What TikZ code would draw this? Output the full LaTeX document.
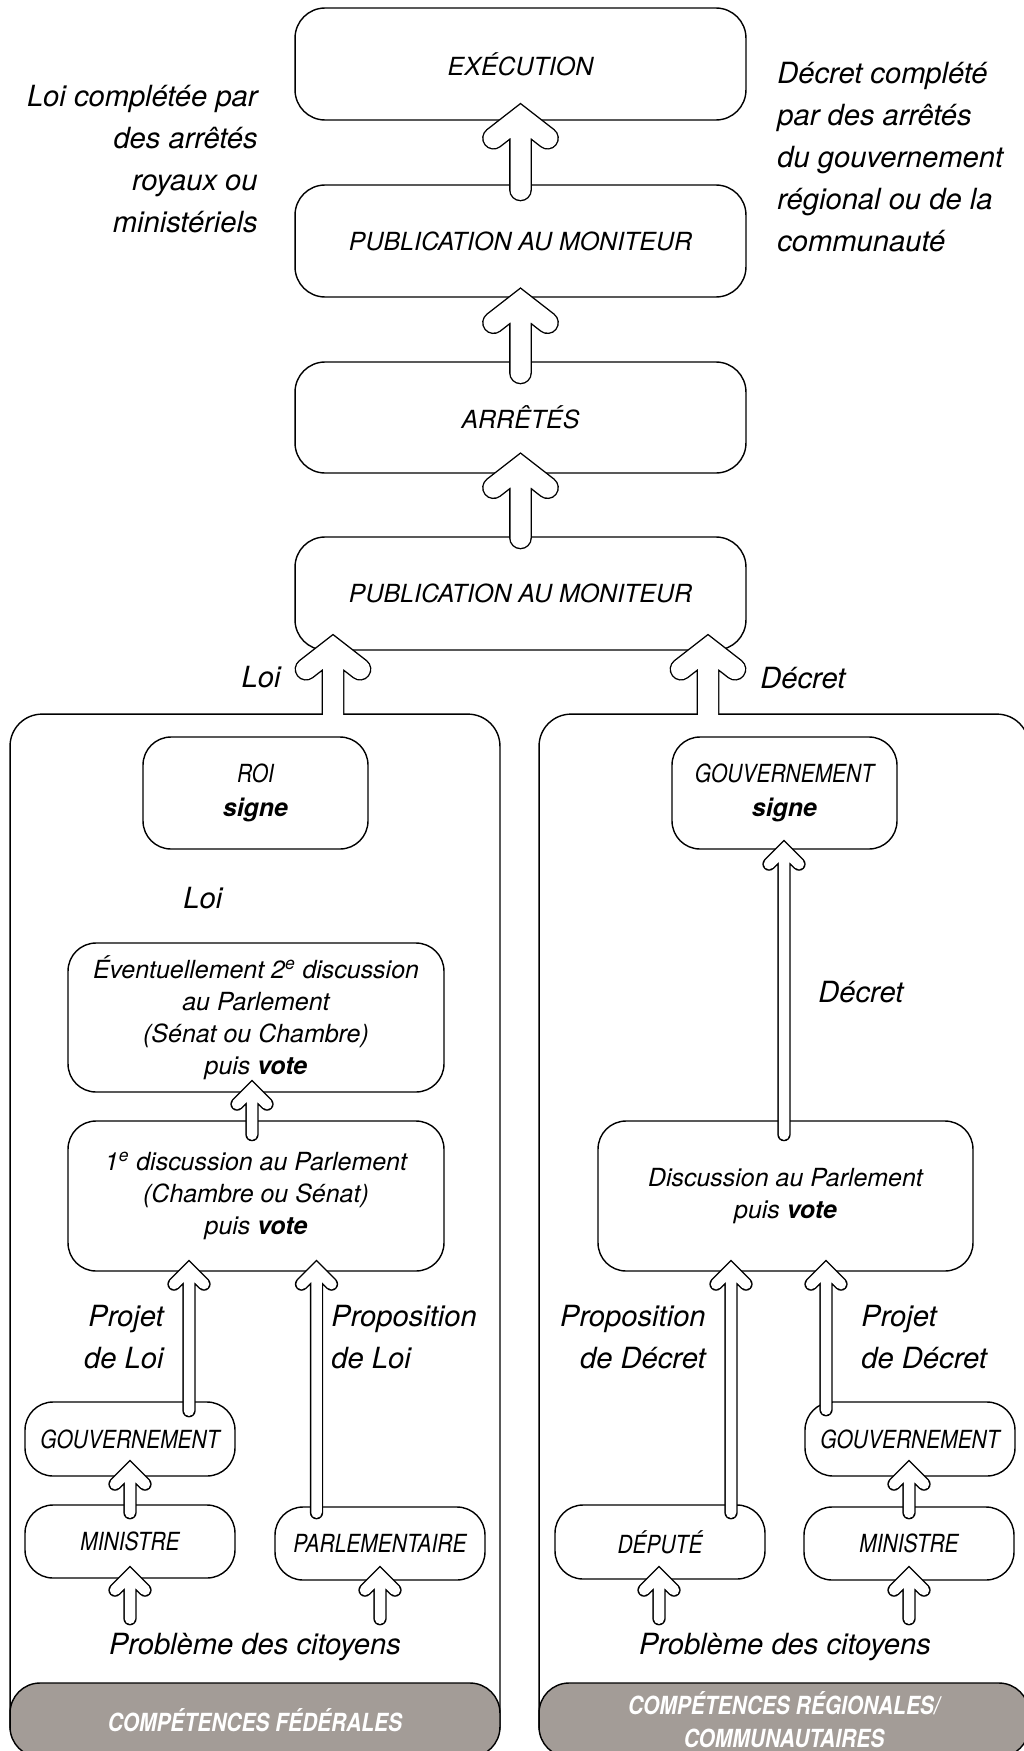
\documentclass[tikz,border=0pt]{standalone}
\usepackage{fontspec}
\setmainfont{TeX Gyre Heros}
\newfontfamily\etroit{TeX Gyre Heros}[FakeStretch=0.84]
\usepackage{tikz}
\usetikzlibrary{calc}
\definecolor{grisbande}{RGB}{163,156,151}

\tikzset{
  boite/.style={draw, line width=0.8pt, rounded corners=0.56cm, inner sep=0pt, align=center},
  grand/.style={font=\itshape\fontsize{14.2}{20}\selectfont, rounded corners=0.6cm},
  capit/.style={font=\itshape\etroit\fontsize{14.2}{19.3}\selectfont},
  texte/.style={font=\itshape\fontsize{14.2}{18.2}\selectfont},
  etiq/.style={inner sep=0pt, font=\itshape\fontsize{16.6}{23.9}\selectfont},
  cadre/.style={draw, line width=0.8pt, rounded corners=0.64cm, minimum width=9.8cm, minimum height=20.86cm},
  bande/.style={draw, line width=0.8pt, fill=grisbande, rounded corners=0.6cm, minimum width=9.8cm, minimum height=1.48cm,
    inner sep=0pt, align=center, text=white, font=\itshape\bfseries\etroit\fontsize{14.2}{18.8}\selectfont},
  grande/.style={draw=black, line width=0.8pt, double=white, double distance=0.4cm, line cap=round},
  petite/.style={draw=black, line width=0.8pt, double=white, double distance=0.21cm, line cap=round}
}
\newcommand{\grandefleche}[2]{\draw[grande] #2 ++(0,14.5) coordinate (v) ++(-27,21) -- (v) -- ++(27,21) (v) -- #1;}
\newcommand{\petitefleche}[2]{\draw[petite] #2 ++(0,9.4) coordinate (v) ++(-15,15) -- (v) -- ++(15,15) (v) -- #1;}

\begin{document}
\begin{tikzpicture}[x=0.02cm, y=-0.02cm]
\useasboundingbox (0,0) rectangle (1024,1751);
\clip (0,0) rectangle (1024,1751);

% colonne du haut
\node[boite, grand, minimum width=9.02cm, minimum height=2.24cm] (exec) at (520.5,64) {EXÉCUTION};
\node[boite, grand, minimum width=9.02cm, minimum height=2.24cm] (pub1) at (520.5,241) {PUBLICATION AU MONITEUR};
\node[boite, grand, minimum width=9.02cm, minimum height=2.22cm] (arretes) at (520.5,417.5) {ARRÊTÉS};
\node[boite, grand, minimum width=9.02cm, minimum height=2.26cm] (pub2) at (520.5,593.5) {PUBLICATION AU MONITEUR};

\node[etiq, anchor=east, align=right] (cotegauche) at (258,159) {Loi complétée par\\des arrêtés\\royaux ou\\ministériels};
\node[etiq, anchor=west, align=left] (cotedroite) at (777,157) {Décret complété\\par des arrêtés\\du gouvernement\\régional ou de la\\communauté};

% les deux cadres
\node[cadre] (cadreL) at (255,1235.5) {};
\node[cadre] (cadreR) at (784,1235.5) {};
\node[bande] (bandeL) at (255,1720) {COMPÉTENCES FÉDÉRALES};
\node[bande] (bandeR) at (784,1720) {COMPÉTENCES RÉGIONALES/\\COMMUNAUTAIRES};

% competences federales
\node[boite, capit, minimum width=4.5cm, minimum height=2.24cm] (roi) at (255.5,793) {ROI\\{\rmfamily\bfseries signe}};
\node[boite, texte, minimum width=7.52cm, minimum height=2.98cm] (disc2) at (256,1017.5) {Éventuellement 2\textsuperscript{e} discussion\\au Parlement\\(Sénat ou Chambre)\\puis \textbf{vote}};
\node[boite, texte, minimum width=7.52cm, minimum height=3cm] (disc1) at (256,1196) {1\textsuperscript{e} discussion au Parlement\\(Chambre ou Sénat)\\puis \textbf{vote}};
\node[boite, capit, minimum width=4.2cm, minimum height=1.48cm] (gouvL) at (130,1439) {GOUVERNEMENT};
\node[boite, capit, minimum width=4.2cm, minimum height=1.46cm] (minL) at (130,1541.5) {MINISTRE};
\node[boite, capit, minimum width=4.2cm, minimum height=1.46cm] (parl) at (380,1543.5) {PARLEMENTAIRE};

% competences regionales
\node[boite, capit, minimum width=4.5cm, minimum height=2.24cm] (gouvsigne) at (784.5,793) {GOUVERNEMENT\\{\rmfamily\bfseries signe}};
\node[boite, texte, minimum width=7.5cm, minimum height=3cm] (discR) at (785.5,1196) {Discussion au Parlement\\puis \textbf{vote}};
\node[boite, capit, minimum width=4.2cm, minimum height=1.48cm] (gouvR) at (910,1439) {GOUVERNEMENT};
\node[boite, capit, minimum width=4.2cm, minimum height=1.48cm] (depute) at (660,1542) {DÉPUTÉ};
\node[boite, capit, minimum width=4.2cm, minimum height=1.46cm] (minR) at (909,1543.5) {MINISTRE};

% etiquettes
\node[etiq, anchor=east] (loihaut) at (281,677) {Loi};
\node[etiq, anchor=west] (decrethaut) at (760,678) {Décret};
\node[etiq, anchor=west] (loimilieu) at (183,898) {Loi};
\node[etiq, anchor=west] (decretmilieu) at (818,992) {Décret};
\node[etiq, anchor=east, align=right] (projetL) at (164,1337) {Projet\\de Loi};
\node[etiq, anchor=west, align=left] (propL) at (331,1337) {Proposition\\de Loi};
\node[etiq, anchor=east, align=right] (propR) at (706,1337) {Proposition\\de Décret};
\node[etiq, anchor=west, align=left] (projetR) at (861,1337) {Projet\\de Décret};
\node[etiq] (probL) at (255,1647) {Problème des citoyens};
\node[etiq] (probR) at (785,1647) {Problème des citoyens};

% fleches
\grandefleche{($(pub1.north)+(0,5.6)$)}{($(exec.south)+(0,-18)$)}
\grandefleche{($(arretes.north)+(0,11.6)$)}{($(pub1.south)+(0,-10.5)$)}
\grandefleche{($(pub2.north)+(0,1.6)$)}{($(arretes.south)+(0,-21.5)$)}
\begin{scope}
  \clip (0,0) rectangle ($(cadreR.north east)+(10,1.2)$);
  \grandefleche{($(cadreL.north)+(78,20)$)}{($(pub2.south)+(-187.5,-17)$)}
  \grandefleche{($(cadreR.north)+(-76,20)$)}{($(pub2.south)+(187.5,-17)$)}
\end{scope}

\petitefleche{($(disc1.north)+(-4,14.3)$)}{($(disc2.south)+(-4,-13)$)}
\petitefleche{($(gouvL.north)+(59,9.4)$)}{($(disc1.south)+(-67,-12)$)}
\petitefleche{($(parl.north)+(-63.5,6.4)$)}{($(disc1.south)+(60.5,-12)$)}
\petitefleche{($(minL.north)+(0,8.4)$)}{($(gouvL.south)+(0,-17)$)}
\petitefleche{($(minL.south)+(0,40)$)}{($(minL.south)+(0,-13)$)}
\petitefleche{($(parl.south)+(0,38)$)}{($(parl.south)+(0,-15)$)}

\petitefleche{($(discR.north)+(-1.5,14.3)$)}{($(gouvsigne.south)+(-0.5,-10)$)}
\petitefleche{($(depute.north)+(71,8.4)$)}{($(discR.south)+(-54.5,-12)$)}
\petitefleche{($(gouvR.north)+(-84,8.4)$)}{($(discR.south)+(40.5,-12)$)}
\petitefleche{($(minR.north)+(0,6.4)$)}{($(gouvR.south)+(-1,-17)$)}
\petitefleche{($(depute.south)+(-1,39)$)}{($(depute.south)+(-1,-14)$)}
\petitefleche{($(minR.south)+(0,38)$)}{($(minR.south)+(0,-15)$)}
\end{tikzpicture}
\end{document}
